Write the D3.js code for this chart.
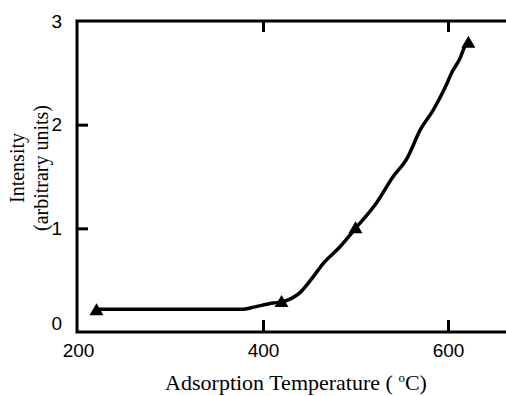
<!DOCTYPE html>
<html>
<head>
<meta charset="utf-8">
<script src="https://cdn.jsdelivr.net/npm/d3@7"></script>
<style>
  body { margin: 0; background: #fff; }
  svg { display: block; }
</style>
</head>
<body>
<script>
// measured points (triangle markers)
const markerTemps = [220, 420, 500, 622];
const markerIntensity = [0.21, 0.29, 1.0, 2.79];

// traced curve
const curveTemps = [220, 300, 378, 390, 411, 420, 440, 454, 465, 483, 500, 523, 540, 556, 570, 584, 597, 604, 613, 618, 622];
const curveIntensity = [0.22, 0.22, 0.22, 0.24, 0.28, 0.29, 0.38, 0.53, 0.66, 0.82, 1.0, 1.25, 1.49, 1.68, 1.95, 2.14, 2.36, 2.50, 2.64, 2.75, 2.79];

const xTicks = [200, 400, 600];
const yTicks = [0, 1, 2, 3];

const width = 506, height = 396;
const plotLeft = 77, plotTop = 21, plotBottom = 332;

const x = d3.scaleLinear().domain([200, 600]).range([78, 448]);
const y = d3.scaleLinear().domain([0, 3]).range([plotBottom, plotTop]);

const svg = d3.select('body').append('svg')
  .attr('width', width)
  .attr('height', height);

// frame (right side is cut off by the image edge)
svg.append('path')
  .attr('d', `M${width},${plotTop}H${plotLeft}V${plotBottom}H${width}`)
  .attr('fill', 'none')
  .attr('stroke', '#000')
  .attr('stroke-width', 3);

const tickFont = '"Liberation Sans", Arial, sans-serif';

const yAxis = svg.append('g')
  .attr('transform', `translate(${plotLeft},0)`)
  .call(d3.axisLeft(y).tickValues(yTicks).tickSize(-11).tickPadding(15).tickFormat(d3.format('d')));

const xAxis = svg.append('g')
  .attr('transform', `translate(0,${plotBottom})`)
  .call(d3.axisBottom(x).tickValues(xTicks).tickSize(-12).tickPadding(12).tickFormat(d3.format('d')));

const xTop = svg.append('g')
  .attr('transform', `translate(0,${plotTop})`)
  .call(d3.axisTop(x).tickValues([400, 600]).tickSize(-11).tickFormat(''));

[yAxis, xAxis, xTop].forEach(g => {
  g.select('.domain').remove();
  g.selectAll('line').attr('stroke', '#000').attr('stroke-width', 3);
  g.selectAll('text').attr('fill', '#000').style('font-family', tickFont).style('font-size', '19px');
});
// hide ticks on corners
yAxis.selectAll('.tick').filter(d => d === 0 || d === 3).select('line').remove();
xAxis.selectAll('.tick').filter(d => d === 200).select('line').remove();
yAxis.selectAll('.tick').filter(d => d === 0).select('text').attr('dy', '-0.15em');

// curve
const curve = curveTemps.map((t, i) => [t, curveIntensity[i]]);
svg.append('path')
  .datum(curve)
  .attr('d', d3.line().x(d => x(d[0])).y(d => y(d[1])).curve(d3.curveMonotoneX))
  .attr('fill', 'none')
  .attr('stroke', '#000')
  .attr('stroke-width', 3.5)
  .attr('stroke-linejoin', 'round');

// markers
svg.selectAll('.marker')
  .data(markerTemps.map((t, i) => [t, markerIntensity[i]]))
  .join('path')
  .attr('class', 'marker')
  .attr('transform', d => `translate(${x(d[0])},${y(d[1])})`)
  .attr('d', 'M0,-7L7,5L-7,5Z')
  .attr('fill', '#000');

const titleFont = '"Book Antiqua", Palatino, "Liberation Serif", "DejaVu Serif", serif';

// x title
const xt = svg.append('text')
  .attr('x', 296)
  .attr('y', 390)
  .attr('text-anchor', 'middle')
  .style('font-family', titleFont)
  .style('font-size', '22px');
xt.append('tspan').text('Adsorption Temperature (  ');
xt.append('tspan').attr('dy', -8).style('font-size', '13px').text('o');
xt.append('tspan').attr('dy', 8).text('C)');

// y title
const yt = svg.append('text')
  .attr('transform', 'translate(0,168) rotate(-90)')
  .attr('text-anchor', 'middle')
  .style('font-family', titleFont)
  .style('font-size', '20px');
yt.append('tspan').attr('x', 0).attr('y', 24).text('Intensity');
yt.append('tspan').attr('x', 0).attr('y', 48).text('(arbitrary units)');
</script>
</body>
</html>
